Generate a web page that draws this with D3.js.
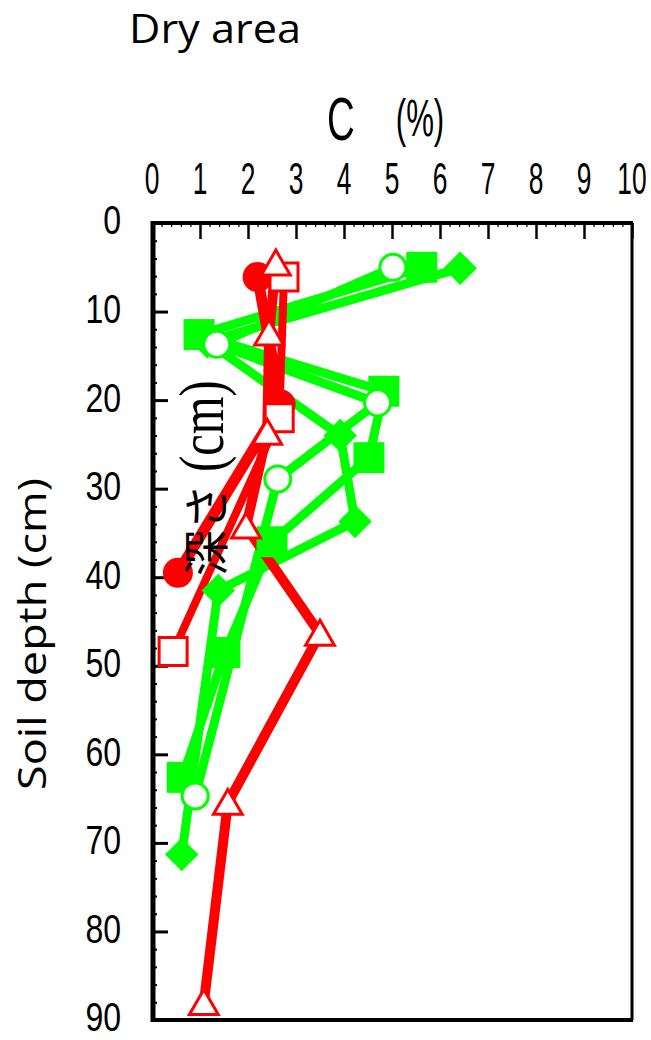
<!DOCTYPE html>
<html>
<head>
<meta charset="utf-8">
<script src="https://cdn.jsdelivr.net/npm/d3@7"></script>
<style>
  body { margin: 0; background: #fff; }
  svg { display: block; }
</style>
</head>
<body>
<div id="chart"></div>
<script>
// tick labels
var xTicks = [0, 1, 2, 3, 4, 5, 6, 7, 8, 9, 10];
var yTicks = [0, 10, 20, 30, 40, 50, 60, 70, 80, 90];

// red profiles (C %, depth cm)
var redCircleC       = [2.2, 2.68, 0.54];
var redCircleDepth   = [6.1, 20.5, 39.5];
var redSquareC       = [2.75, 2.65, 0.44];
var redSquareDepth   = [6.1, 22.0, 48.4];
var redTriangleC     = [2.58, 2.44, 2.4, 1.96, 3.5, 1.58, 1.08];
var redTriangleDepth = [4.6, 12.5, 23.7, 34.3, 46.4, 65.5, 88.1];

// green profiles
var greenSquareC      = [5.62, 0.98, 4.83, 4.52, 2.5, 1.52, 0.63];
var greenSquareDepth  = [5.0, 12.6, 19.0, 26.5, 36.0, 48.5, 62.6];
var greenCircleC      = [5.02, 1.35, 4.7, 2.62, 0.9];
var greenCircleDepth  = [5.0, 13.7, 20.3, 28.9, 64.7];
var greenDiamondC     = [6.42, 1.15, 3.92, 4.23, 1.38, 0.62];
var greenDiamondDepth = [5.1, 13.4, 24.0, 33.7, 41.5, 71.3];

var W = 651, H = 1040;
var red = "#ff0000", green = "#00ff00";

var svg = d3.select("#chart").append("svg")
  .attr("width", W)
  .attr("height", H);

var x = d3.scaleLinear().domain([0, 10]).range([152, 632]);
var y = d3.scaleLinear().domain([0, 90]).range([223, 1020]);

function pts(cs, ds) {
  return cs.map(function(c, i) { return {c: c, d: ds[i]}; });
}

var series = [
  {name: "gDiamond", data: pts(greenDiamondC, greenDiamondDepth), color: green, lw: 9, shape: "diamond"},
  {name: "gSquare",  data: pts(greenSquareC, greenSquareDepth),   color: green, lw: 9, shape: "square"},
  {name: "gCircle",  data: pts(greenCircleC, greenCircleDepth),   color: green, lw: 9, shape: "circle"},
  {name: "rCircle",  data: pts(redCircleC, redCircleDepth),       color: red,   lw: 11, shape: "dot"},
  {name: "rSquare",  data: pts(redSquareC, redSquareDepth),       color: red,   lw: 8, shape: "osquare"},
  {name: "rTri",     data: pts(redTriangleC, redTriangleDepth),   color: red,   lw: 10, shape: "triangle"}
];

// ---- axes frame ----
var frame = svg.append("g");

// top axis ticks, pointing into the plot
frame.append("g")
  .attr("transform", "translate(0," + y(0) + ")")
  .call(d3.axisTop(x).tickValues(d3.range(0, 10.01, 0.2)).tickSize(-4).tickSizeOuter(0).tickFormat(""))
  .call(function(g) { g.select(".domain").remove(); })
  .selectAll("line").attr("stroke-width", 1.2);

frame.append("g")
  .attr("transform", "translate(0," + y(0) + ")")
  .call(d3.axisTop(x).tickValues(xTicks).tickSize(-16).tickSizeOuter(0).tickFormat(""))
  .call(function(g) { g.select(".domain").remove(); })
  .selectAll("line").attr("stroke-width", 2.5);

// left axis ticks
frame.append("g")
  .attr("transform", "translate(" + x(0) + ",0)")
  .call(d3.axisLeft(y).tickValues(d3.range(0, 90.01, 2)).tickSize(-5).tickSizeOuter(0).tickFormat(""))
  .call(function(g) { g.select(".domain").remove(); })
  .selectAll("line").attr("stroke-width", 2);

frame.append("g")
  .attr("transform", "translate(" + x(0) + ",0)")
  .call(d3.axisLeft(y).tickValues(yTicks).tickSize(-16).tickSizeOuter(0).tickFormat(""))
  .call(function(g) { g.select(".domain").remove(); })
  .selectAll("line").attr("stroke-width", 3);

// border lines
frame.append("line").attr("x1", x(0)).attr("x2", x(10) + 1).attr("y1", y(0)).attr("y2", y(0))
  .attr("stroke", "#000").attr("stroke-width", 4);
frame.append("line").attr("x1", x(0) + 1).attr("x2", x(0) + 1).attr("y1", y(0) - 2).attr("y2", y(90) + 2)
  .attr("stroke", "#000").attr("stroke-width", 5);
frame.append("line").attr("x1", x(10)).attr("x2", x(10)).attr("y1", y(0)).attr("y2", y(90))
  .attr("stroke", "#000").attr("stroke-width", 3);
frame.append("line").attr("x1", x(0)).attr("x2", x(10) + 1).attr("y1", y(90)).attr("y2", y(90))
  .attr("stroke", "#000").attr("stroke-width", 4);

// tick labels (narrow face, like the original)
svg.append("g").selectAll("text")
  .data(xTicks)
  .join("text")
  .attr("transform", function(d) { return "translate(" + x(d) + ",194) scale(0.6,1)"; })
  .attr("text-anchor", "middle")
  .style("font-family", "Liberation Sans, Arial, sans-serif")
  .style("font-size", "44px")
  .text(function(d) { return d; });

svg.append("g").selectAll("text")
  .data(yTicks)
  .join("text")
  .attr("transform", function(d) { return "translate(121," + (y(d) - 3) + ") scale(0.8,1)"; })
  .attr("text-anchor", "end")
  .attr("dy", "0.36em")
  .style("font-family", "Liberation Sans, Arial, sans-serif")
  .style("font-size", "40px")
  .text(function(d) { return d; });

// titles
svg.append("text")
  .attr("x", 129).attr("y", 43)
  .attr("textLength", 172).attr("lengthAdjust", "spacingAndGlyphs")
  .style("font-family", "Open Sans, sans-serif")
  .style("font-size", "40px")
  .text("Dry area");

svg.append("text")
  .attr("transform", "translate(341,140) scale(0.62,1)")
  .attr("text-anchor", "middle")
  .style("font-family", "Liberation Sans, Arial, sans-serif")
  .style("font-size", "62px")
  .text("C");
svg.append("text")
  .attr("transform", "translate(420,136) scale(0.6,1)")
  .attr("text-anchor", "middle")
  .style("font-family", "Liberation Sans, Arial, sans-serif")
  .style("font-size", "52px")
  .text("(%)");

svg.append("text")
  .attr("transform", "translate(46,634) rotate(-90)")
  .attr("text-anchor", "middle")
  .attr("textLength", 312).attr("lengthAdjust", "spacingAndGlyphs")
  .style("font-family", "Open Sans, sans-serif")
  .style("font-size", "39px")
  .text("Soil depth (cm)");

// ---- data ----
var line = d3.line()
  .x(function(p) { return x(p.c); })
  .y(function(p) { return y(p.d); });

var plot = svg.append("g");

// lines first: green under red
plot.selectAll("path.profile")
  .data(series)
  .join("path")
  .attr("class", "profile")
  .attr("fill", "none")
  .attr("stroke", function(s) { return s.color; })
  .attr("stroke-width", function(s) { return s.lw; })
  .attr("stroke-linejoin", "round")
  .attr("d", function(s) { return line(s.data); });

// markers
var symbols = {
  diamond:  {type: d3.symbolSquare,   size: 560, rot: 45, fill: green, stroke: "none", sw: 0},
  square:   {type: d3.symbolSquare,   size: 961, rot: 0,  fill: green, stroke: "none", sw: 0},
  circle:   {type: d3.symbolCircle,   size: 531, rot: 0,  fill: "#fff", stroke: green, sw: 3},
  dot:      {type: d3.symbolCircle,   size: 707, rot: 0,  fill: red,   stroke: "none", sw: 0},
  osquare:  {type: d3.symbolSquare,   size: 784, rot: 0,  fill: "#fff", stroke: red,  sw: 3},
  triangle: {type: d3.symbolTriangle, size: 360, rot: 0,  fill: "#fff", stroke: red,  sw: 3}
};

series.forEach(function(s) {
  var m = symbols[s.shape];
  plot.append("g").selectAll("path")
    .data(s.data)
    .join("path")
    .attr("transform", function(p) {
      var ty = y(p.d) + (s.shape == "triangle" ? 3 : 0);
      return "translate(" + x(p.c) + "," + ty + ") rotate(" + m.rot + ")";
    })
    .attr("d", d3.symbol().type(m.type).size(m.size))
    .attr("fill", m.fill)
    .attr("stroke", m.stroke)
    .attr("stroke-width", m.sw);
});

// stray overlaid label from the source figure
svg.append("text")
  .attr("transform", "translate(223,576) rotate(-90)")
  .style("font-family", "Noto Sans CJK JP, sans-serif")
  .style("font-size", "46px")
  .text("深さ");
svg.append("text")
  .attr("transform", "translate(223,472) rotate(-90) scale(0.76,1)")
  .style("font-family", "Liberation Serif, serif")
  .style("font-size", "64px")
  .text("(cm)");
</script>
</body>
</html>
